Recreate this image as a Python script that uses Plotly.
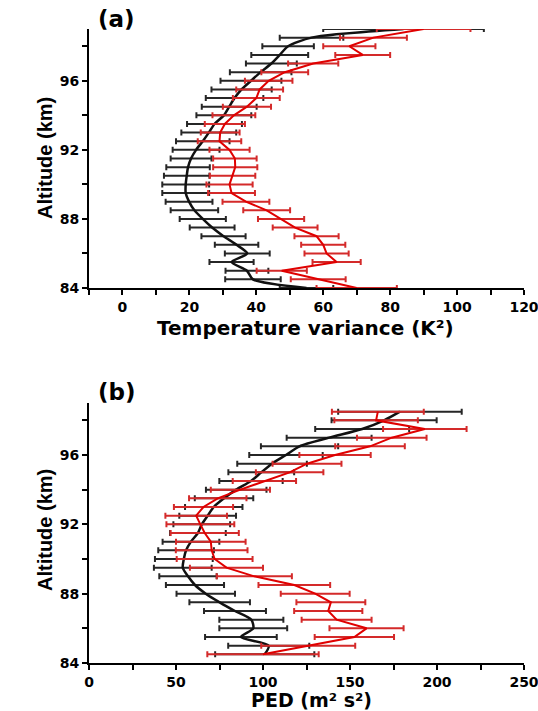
import plotly.graph_objects as go

# ---------------- Panel (a): temperature variance ----------------
alt_a = [84.0, 84.5, 85.0, 85.5, 86.0, 86.5, 87.0, 87.5, 88.0, 88.5, 89.0, 89.5,
         90.0, 90.5, 91.0, 91.5, 92.0, 92.5, 93.0, 93.5, 94.0, 94.5, 95.0, 95.5,
         96.0, 96.5, 97.0, 97.5, 98.0, 98.5, 99.0]
black_a = [55.0, 39.0, 37.2, 32.6, 37.3, 34.1, 30.2, 26.8, 24.0, 21.5, 19.9, 18.9,
           18.9, 19.2, 19.6, 20.5, 22.0, 24.0, 25.8, 27.5, 30.3, 31.9, 33.5, 35.6,
           38.4, 41.3, 44.5, 47.0, 49.5, 56.5, 84.0]
black_a_err = [8.0, 8.3, 6.4, 6.6, 6.7, 6.5, 6.6, 6.7, 6.9, 7.1, 7.0, 7.0,
               7.0, 6.8, 6.5, 6.1, 7.0, 8.0, 8.2, 8.2, 8.2, 8.2, 8.6, 9.0,
               9.1, 9.2, 7.6, 8.5, 7.7, 9.5, 24.0]
red_a = [70.0, 58.5, 47.6, 64.0, 61.0, 60.0, 58.0, 51.6, 47.4, 43.1, 36.9, 32.6,
         32.0, 32.9, 33.7, 33.6, 32.0, 29.0, 29.2, 30.6, 33.3, 37.2, 40.0, 41.0,
         43.7, 48.5, 57.0, 71.8, 67.8, 75.0, 90.0]
red_a_err = [12.0, 8.2, 7.5, 7.2, 6.6, 6.6, 6.6, 6.7, 6.9, 7.0, 7.0, 7.0,
             6.9, 6.8, 6.6, 6.5, 6.0, 6.5, 5.8, 6.0, 6.4, 7.2, 7.0, 7.0,
             7.1, 7.0, 7.5, 8.2, 7.8, 10.0, 14.0]

# ---------------- Panel (b): PED ----------------
alt_b = [84.5, 85.0, 85.5, 86.0, 86.5, 87.0, 87.5, 88.0, 88.5, 89.0, 89.5,
         90.0, 90.5, 91.0, 91.5, 92.0, 92.5, 93.0, 93.5, 94.0, 94.5, 95.0, 95.5,
         96.0, 96.5, 97.0, 97.5, 98.0, 98.5]
black_b = [101.0, 103.3, 87.3, 94.4, 93.3, 83.9, 75.1, 67.1, 60.9, 56.9, 53.9,
           54.5, 55.8, 58.6, 62.6, 64.8, 68.2, 71.7, 77.6, 84.6, 93.1, 99.0, 105.2,
           113.2, 121.0, 138.0, 157.0, 169.6, 178.7]
black_b_err = [28.5, 23.3, 20.6, 19.5, 18.4, 17.8, 17.4, 16.8, 16.7, 16.5, 16.6,
               16.6, 16.0, 16.3, 16.0, 16.3, 16.3, 16.5, 16.8, 17.4, 18.2, 18.9, 20.0,
               21.1, 22.2, 24.4, 27.0, 30.2, 35.5]
red_b = [100.0, 126.0, 152.5, 159.5, 142.3, 137.5, 139.0, 130.0, 118.0, 95.0, 79.0,
         72.2, 70.5, 70.0, 66.5, 64.0, 61.6, 65.8, 74.0, 87.0, 100.8, 115.3, 125.3,
         141.4, 161.5, 174.0, 193.0, 165.0, 166.0]
red_b_err = [32.0, 27.0, 22.8, 21.3, 20.1, 19.6, 19.8, 19.8, 20.6, 21.6, 21.0,
             21.8, 20.6, 20.0, 19.6, 19.5, 17.7, 17.0, 16.5, 17.0, 18.2, 19.4, 19.8,
             20.5, 20.0, 20.0, 24.0, 24.0, 26.4]

BLACK_LINE = "#111111"
BLACK_BAR = "#262626"
RED_LINE = "#e00000"
RED_BAR = "#d42a2a"

fig = go.Figure()

def add_pair(xb, xb_err, xr, xr_err, yv, xa, ya):
    fig.add_trace(go.Scatter(
        x=xb, y=yv, mode="lines", xaxis=xa, yaxis=ya,
        line=dict(color=BLACK_LINE, width=2.5, shape="spline", smoothing=0.7),
        error_x=dict(type="data", array=xb_err, color=BLACK_BAR, thickness=2, width=3),
        showlegend=False))
    fig.add_trace(go.Scatter(
        x=xr, y=yv, mode="lines", xaxis=xa, yaxis=ya,
        line=dict(color=RED_LINE, width=2),
        error_x=dict(type="data", array=xr_err, color=RED_BAR, thickness=2, width=3),
        showlegend=False))

add_pair(black_a, black_a_err, red_a, red_a_err, alt_a, "x", "y")
add_pair(black_b, black_b_err, red_b, red_b_err, alt_b, "x2", "y2")

tickfont = dict(family="DejaVu Sans", size=14, color="black", weight="bold")

def xax(rng, dtick, mdtick, anchor):
    return dict(range=rng, domain=[0, 1], anchor=anchor, showline=True, linewidth=2,
                linecolor="black", ticks="outside", ticklen=5, tickwidth=2, tickcolor="black",
                tick0=0, dtick=dtick, showgrid=False, zeroline=False, tickfont=tickfont,
                ticklabeloverflow="allow",
                minor=dict(tick0=0, dtick=mdtick, ticks="outside", ticklen=5, tickwidth=2,
                           tickcolor="black", showgrid=False))

def yax(dom, anchor):
    return dict(range=[84, 99], domain=dom, anchor=anchor, showline=True, linewidth=2,
                linecolor="black", ticks="outside", ticklen=5, tickwidth=2, tickcolor="black",
                tick0=84, dtick=4, showgrid=False, zeroline=False, tickfont=tickfont,
                ticklabeloverflow="allow",
                minor=dict(tick0=84, dtick=2, ticks="outside", ticklen=5, tickwidth=2,
                           tickcolor="black", showgrid=False))

W, H, L, R = 538, 711, 89, 14

def px(xp):
    return (xp - L) / (W - L - R)

def py(yp):
    return (H - yp) / H

titlefont = dict(family="DejaVu Sans", size=20, color="black", weight="bold")
pedfont = dict(family="DejaVu Sans", size=19, color="black", weight="bold")
yfont = dict(family="Liberation Sans", size=20, color="black", weight="bold")
panelfont = dict(family="DejaVu Sans", size=23, color="black", weight="bold")

annotations = [
    dict(text="(a)", x=px(116), y=py(19), font=panelfont),
    dict(text="(b)", x=px(117), y=py(392), font=panelfont),
    dict(text="Altitude (km)", x=px(45), y=py(158), textangle=-90, font=yfont),
    dict(text="Altitude (km)", x=px(45), y=py(530), textangle=-90, font=yfont),
    dict(text="Temperature variance (K²)", x=px(305), y=py(328), font=titlefont),
    dict(text="PED (m² s²)", x=px(311), y=py(699.5), font=pedfont),
]
for a in annotations:
    a.update(xref="paper", yref="paper", xanchor="center", yanchor="middle",
             showarrow=False, borderpad=0)

fig.update_layout(
    width=W, height=H,
    margin=dict(l=L, r=R, t=0, b=0, autoexpand=False),
    paper_bgcolor="white", plot_bgcolor="white",
    xaxis=xax([-10, 120], 20, 10, "y"),
    yaxis=yax([(H - 288) / H, (H - 29) / H], "x"),
    xaxis2=xax([0, 250], 50, 25, "y2"),
    yaxis2=yax([(H - 663) / H, (H - 403) / H], "x2"),
    annotations=annotations,
    showlegend=False,
)

fig.write_html("out.html", config={"displayModeBar": False},
               post_script="document.body.style.margin='0px';document.body.style.overflow='hidden';")
